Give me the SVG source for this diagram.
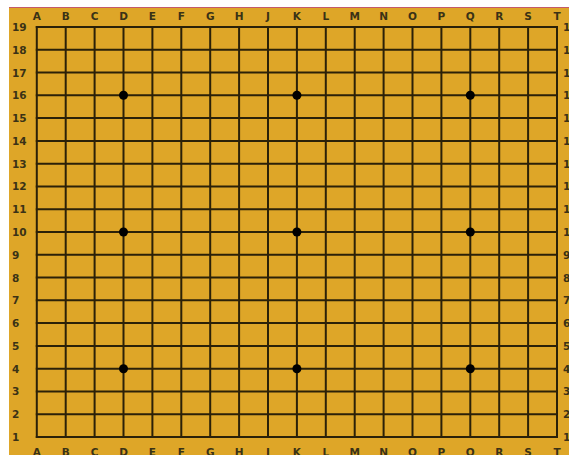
<svg xmlns="http://www.w3.org/2000/svg" width="569" height="455" viewBox="0 0 569 455">
<style>
.ln{stroke:#2b2108;stroke-width:2;fill:none;stroke-linecap:square}
.lb{font-family:"DejaVu Sans",sans-serif;font-size:10.5px;font-weight:bold;fill:#3a3216}
.c{text-anchor:middle}
.s{fill:#000}
</style>
<rect x="0" y="0" width="569" height="455" fill="#ffffff"/>
<rect x="9" y="7" width="560" height="448" fill="#dea628"/>
<line x1="9" y1="7.5" x2="569" y2="7.5" stroke="#c45a6a" stroke-width="1"/>
<g id="grid">
<path class="ln" d="M36.8 27V437M65.7 27V437M94.6 27V437M123.5 27V437M152.4 27V437M181.3 27V437M210.2 27V437M239.1 27V437M268 27V437M296.9 27V437M325.8 27V437M354.7 27V437M383.6 27V437M412.5 27V437M441.4 27V437M470.3 27V437M499.2 27V437M528.1 27V437M557 27V437"/>
<path class="ln" d="M36.8 27H557M36.8 49.8H557M36.8 72.6H557M36.8 95.3H557M36.8 118.1H557M36.8 140.9H557M36.8 163.7H557M36.8 186.4H557M36.8 209.2H557M36.8 232H557M36.8 254.8H557M36.8 277.6H557M36.8 300.3H557M36.8 323.1H557M36.8 345.9H557M36.8 368.7H557M36.8 391.4H557M36.8 414.2H557M36.8 437H557"/>
</g>
<g id="stars">
<circle class="s" cx="123.5" cy="95.3" r="4.5"/>
<circle class="s" cx="296.9" cy="95.3" r="4.5"/>
<circle class="s" cx="470.3" cy="95.3" r="4.5"/>
<circle class="s" cx="123.5" cy="232" r="4.5"/>
<circle class="s" cx="296.9" cy="232" r="4.5"/>
<circle class="s" cx="470.3" cy="232" r="4.5"/>
<circle class="s" cx="123.5" cy="368.7" r="4.5"/>
<circle class="s" cx="296.9" cy="368.7" r="4.5"/>
<circle class="s" cx="470.3" cy="368.7" r="4.5"/>
</g>
<g id="top-labels" class="lb c">
<text x="36.8" y="20">A</text><text x="65.7" y="20">B</text><text x="94.6" y="20">C</text><text x="123.5" y="20">D</text><text x="152.4" y="20">E</text><text x="181.3" y="20">F</text><text x="210.2" y="20">G</text><text x="239.1" y="20">H</text><text x="268" y="20">J</text><text x="296.9" y="20">K</text><text x="325.8" y="20">L</text><text x="354.7" y="20">M</text><text x="383.6" y="20">N</text><text x="412.5" y="20">O</text><text x="441.4" y="20">P</text><text x="470.3" y="20">Q</text><text x="499.2" y="20">R</text><text x="528.1" y="20">S</text><text x="557" y="20">T</text>
</g>
<g id="bottom-labels" class="lb c">
<text x="36.8" y="456">A</text><text x="65.7" y="456">B</text><text x="94.6" y="456">C</text><text x="123.5" y="456">D</text><text x="152.4" y="456">E</text><text x="181.3" y="456">F</text><text x="210.2" y="456">G</text><text x="239.1" y="456">H</text><text x="268" y="456">J</text><text x="296.9" y="456">K</text><text x="325.8" y="456">L</text><text x="354.7" y="456">M</text><text x="383.6" y="456">N</text><text x="412.5" y="456">O</text><text x="441.4" y="456">P</text><text x="470.3" y="456">Q</text><text x="499.2" y="456">R</text><text x="528.1" y="456">S</text><text x="557" y="456">T</text>
</g>
<g id="left-labels" class="lb">
<text x="12" y="31">19</text><text x="12" y="53.8">18</text><text x="12" y="76.6">17</text><text x="12" y="99.3">16</text><text x="12" y="122.1">15</text><text x="12" y="144.9">14</text><text x="12" y="167.7">13</text><text x="12" y="190.4">12</text><text x="12" y="213.2">11</text><text x="12" y="236">10</text><text x="12" y="258.8">9</text><text x="12" y="281.6">8</text><text x="12" y="304.3">7</text><text x="12" y="327.1">6</text><text x="12" y="349.9">5</text><text x="12" y="372.7">4</text><text x="12" y="395.4">3</text><text x="12" y="418.2">2</text><text x="12" y="441">1</text>
</g>
<g id="right-labels" class="lb">
<text x="563" y="31">19</text><text x="563" y="53.8">18</text><text x="563" y="76.6">17</text><text x="563" y="99.3">16</text><text x="563" y="122.1">15</text><text x="563" y="144.9">14</text><text x="563" y="167.7">13</text><text x="563" y="190.4">12</text><text x="563" y="213.2">11</text><text x="563" y="236">10</text><text x="563" y="258.8">9</text><text x="563" y="281.6">8</text><text x="563" y="304.3">7</text><text x="563" y="327.1">6</text><text x="563" y="349.9">5</text><text x="563" y="372.7">4</text><text x="563" y="395.4">3</text><text x="563" y="418.2">2</text><text x="563" y="441">1</text>
</g>
</svg>
